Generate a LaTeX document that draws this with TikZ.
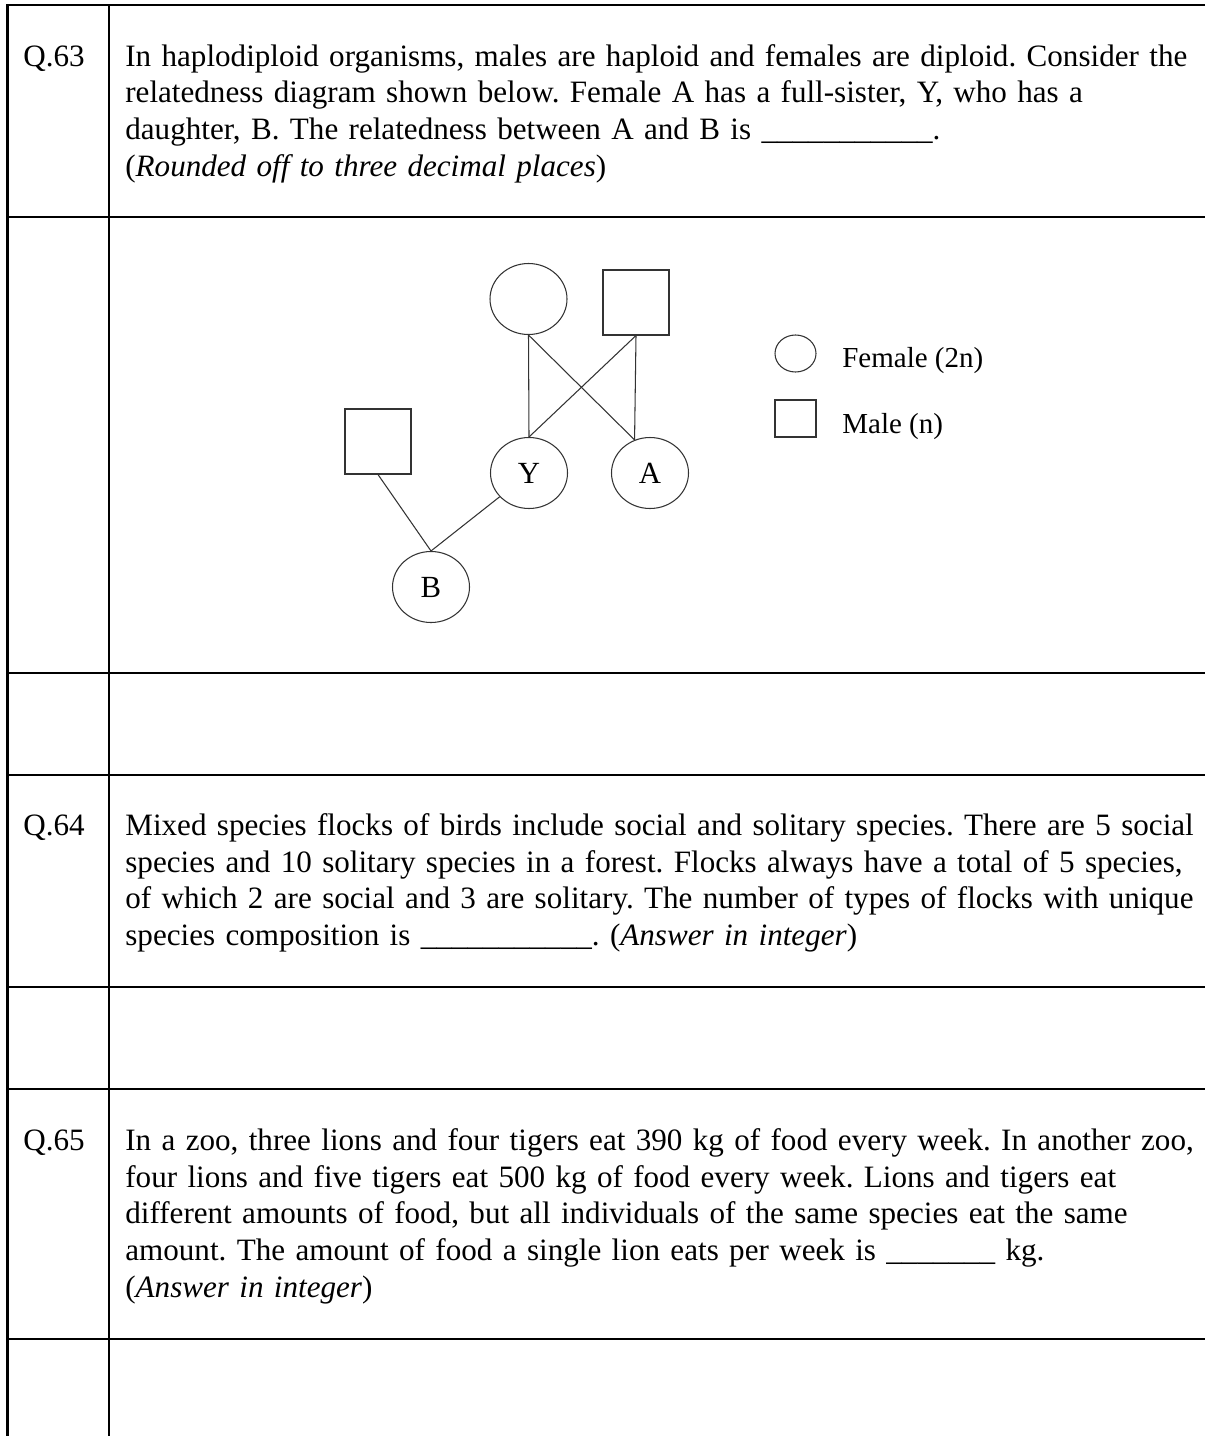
\documentclass[tikz,border=0pt]{standalone}
\usepackage{fontspec}
\setmainfont{Liberation Serif}
\usetikzlibrary{shapes.geometric}
\frenchspacing

\begin{document}
\begin{tikzpicture}[
  rule/.style={line width=1.5pt},
  link/.style={black!80, line width=0.6pt},
  fem/.style={ellipse, draw=black!80, line width=0.6pt, minimum width=1.54cm, minimum height=1.42cm, inner sep=0pt, font=\fontsize{17.5}{20}\selectfont},
  mal/.style={rectangle, draw=black!80, line width=0.6pt, minimum width=1.32cm, minimum height=1.30cm, inner sep=0pt},
  qnum/.style={anchor=base west, inner sep=0pt, font=\fontsize{17.7}{21.05}\selectfont},
  qtext/.style={anchor=base west, inner sep=0pt, text width=22cm, align=left, font=\fontsize{17.7}{21.05}\selectfont},
  key/.style={anchor=base west, inner sep=0pt, font=\fontsize{16.5}{20}\selectfont}
]
\useasboundingbox (0,0) rectangle (24.1,-28.72);
\fill[white] (0,0) rectangle (24.1,-28.72);

\draw[rule] (24.1,-0.1) -- (0.154,-0.1) -- (0.154,-28.72);
\draw[rule] (2.18,-0.1) -- (2.18,-28.72);
\draw[rule] (0.154,-4.34) -- (24.1,-4.34);
\draw[rule] (0.154,-13.46) -- (24.1,-13.46);
\draw[rule] (0.154,-15.5) -- (24.1,-15.5);
\draw[rule] (0.154,-19.74) -- (24.1,-19.74);
\draw[rule] (0.154,-21.78) -- (24.1,-21.78);
\draw[rule] (0.154,-26.78) -- (24.1,-26.78);

\node[qnum] (q63) at (0.46,-1.32) {Q.63};
\node[qtext] (t63) at (2.5,-1.32) {In haplodiploid organisms, males are haploid and females are diploid. Consider the\\
relatedness diagram shown below. Female A has a full-sister, Y, who has a\\
daughter, B. The relatedness between A and B is \_\_\_\_\_\_\_\_\_\_\_.\\
(\textit{Rounded off to three decimal places})};

\node[fem] (mom) at (10.57,-5.98) {};
\node[mal] (dad) at (12.72,-6.05) {};
\node[mal] (mate) at (7.56,-8.83) {};
\node[fem] (Y) at (10.58,-9.46) {Y};
\node[fem] (A) at (13.0,-9.46) {A};
\node[fem] (B) at (8.62,-11.74) {B};

\draw[link] (mom.south) -- (Y.north);
\draw[link] (mom.south) -- (A.115);
\draw[link] (dad.south) -- (A.115);
\draw[link] (dad.south) -- (Y.north);
\draw[link] (mate.south) -- (B.north);
\draw[link] (Y.219) -- (B.north);

\node[fem, minimum width=0.82cm, minimum height=0.74cm] (keyf) at (15.91,-7.07) {};
\node[mal, minimum width=0.82cm, minimum height=0.74cm] (keym) at (15.91,-8.37) {};
\node[key] (keyft) at (16.84,-7.34) {Female (2n)};
\node[key] (keymt) at (16.84,-8.66) {Male (n)};

\node[qnum] (q64) at (0.46,-16.7) {Q.64};
\node[qtext] (t64) at (2.5,-16.7) {Mixed species flocks of birds include social and solitary species. There are 5 social\\
species and 10 solitary species in a forest. Flocks always have a total of 5 species,\\
of which 2 are social and 3 are solitary. The number of types of flocks with unique\\
species composition is \_\_\_\_\_\_\_\_\_\_\_. (\textit{Answer in integer})};

\node[qnum] (q65) at (0.46,-23.0) {Q.65};
\node[qtext] (t65) at (2.5,-23.0) {In a zoo, three lions and four tigers eat 390 kg of food every week. In another zoo,\\
four lions and five tigers eat 500 kg of food every week. Lions and tigers eat\\
different amounts of food, but all individuals of the same species eat the same\\
amount. The amount of food a single lion eats per week is \_\_\_\_\_\_\_ kg.\\
(\textit{Answer in integer})};

\end{tikzpicture}
\end{document}
